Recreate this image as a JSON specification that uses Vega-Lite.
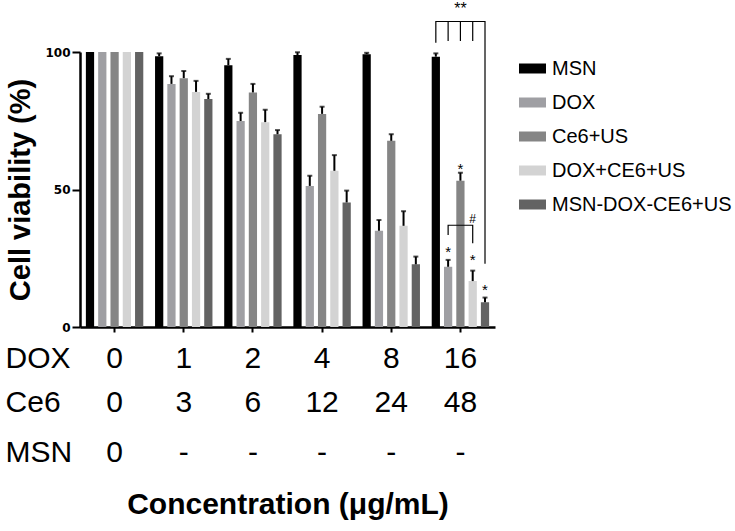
{
  "$schema": "https://vega.github.io/schema/vega-lite/v6.json",
  "autosize": {"type": "none"},
  "padding": {"left": 80, "top": 52, "right": 240, "bottom": 204},
  "width": 415,
  "height": 275,
  "background": "white",
  "config": {
    "view": {"stroke": null},
    "font": "Liberation Sans",
    "axis": {"grid": false, "domainColor": "black", "tickColor": "black", "labelColor": "black", "titleColor": "black"}
  },
  "datasets": {
    "bars": [
      {"dose": "0", "group": "MSN", "value": 100, "err": null},
      {"dose": "0", "group": "DOX", "value": 100, "err": null},
      {"dose": "0", "group": "Ce6+US", "value": 100, "err": null},
      {"dose": "0", "group": "DOX+CE6+US", "value": 100, "err": null},
      {"dose": "0", "group": "MSN-DOX-CE6+US", "value": 100, "err": null},
      {"dose": "1", "group": "MSN", "value": 98.5, "err": 99.5},
      {"dose": "1", "group": "DOX", "value": 88.4, "err": 91.2},
      {"dose": "1", "group": "Ce6+US", "value": 90.5, "err": 93.1},
      {"dose": "1", "group": "DOX+CE6+US", "value": 85.5, "err": 89.5},
      {"dose": "1", "group": "MSN-DOX-CE6+US", "value": 82.9, "err": 84.8},
      {"dose": "2", "group": "MSN", "value": 95.2, "err": 97.5},
      {"dose": "2", "group": "DOX", "value": 74.9, "err": 77.9},
      {"dose": "2", "group": "Ce6+US", "value": 85.3, "err": 88.4},
      {"dose": "2", "group": "DOX+CE6+US", "value": 74.5, "err": 79.0},
      {"dose": "2", "group": "MSN-DOX-CE6+US", "value": 70.1, "err": 71.6},
      {"dose": "4", "group": "MSN", "value": 98.9, "err": 99.9},
      {"dose": "4", "group": "DOX", "value": 51.3, "err": 55.0},
      {"dose": "4", "group": "Ce6+US", "value": 77.5, "err": 80.1},
      {"dose": "4", "group": "DOX+CE6+US", "value": 56.8, "err": 62.5},
      {"dose": "4", "group": "MSN-DOX-CE6+US", "value": 45.3, "err": 49.6},
      {"dose": "8", "group": "MSN", "value": 99.2, "err": 99.7},
      {"dose": "8", "group": "DOX", "value": 35.0, "err": 38.9},
      {"dose": "8", "group": "Ce6+US", "value": 67.7, "err": 70.1},
      {"dose": "8", "group": "DOX+CE6+US", "value": 36.8, "err": 42.1},
      {"dose": "8", "group": "MSN-DOX-CE6+US", "value": 22.8, "err": 25.6},
      {"dose": "16", "group": "MSN", "value": 98.3, "err": 99.5},
      {"dose": "16", "group": "DOX", "value": 21.9, "err": 24.4},
      {"dose": "16", "group": "Ce6+US", "value": 53.2, "err": 56.1},
      {"dose": "16", "group": "DOX+CE6+US", "value": 16.7, "err": 20.5},
      {"dose": "16", "group": "MSN-DOX-CE6+US", "value": 9.0, "err": 10.7}
    ],
    "brackets": [
      {"id": "a", "dose": "16", "group": "MSN", "y": 103.4, "ord": 1},
      {"id": "a", "dose": "16", "group": "MSN", "y": 111.1, "ord": 2},
      {"id": "a", "dose": "16", "group": "MSN-DOX-CE6+US", "y": 111.1, "ord": 3},
      {"id": "a", "dose": "16", "group": "MSN-DOX-CE6+US", "y": 23, "ord": 4},
      {"id": "b", "dose": "16", "group": "DOX", "y": 111.1, "ord": 1},
      {"id": "b", "dose": "16", "group": "DOX", "y": 104.0, "ord": 2},
      {"id": "c", "dose": "16", "group": "Ce6+US", "y": 111.1, "ord": 1},
      {"id": "c", "dose": "16", "group": "Ce6+US", "y": 104.0, "ord": 2},
      {"id": "d", "dose": "16", "group": "DOX+CE6+US", "y": 111.1, "ord": 1},
      {"id": "d", "dose": "16", "group": "DOX+CE6+US", "y": 104.0, "ord": 2},
      {"id": "e", "dose": "16", "group": "DOX", "y": 33.5, "ord": 1},
      {"id": "e", "dose": "16", "group": "DOX", "y": 37, "ord": 2},
      {"id": "e", "dose": "16", "group": "DOX+CE6+US", "y": 37, "ord": 3},
      {"id": "e", "dose": "16", "group": "DOX+CE6+US", "y": 30.5, "ord": 4}
    ],
    "marks": [
      {"dose": "16", "group": "DOX", "y": 25.3, "label": "*", "size": 15},
      {"dose": "16", "group": "Ce6+US", "y": 55.8, "label": "*", "size": 15},
      {"dose": "16", "group": "DOX+CE6+US", "y": 22.5, "label": "*", "size": 15},
      {"dose": "16", "group": "MSN-DOX-CE6+US", "y": 11.6, "label": "*", "size": 15},
      {"dose": "16", "group": "Ce6+US", "y": 113.7, "label": "**", "size": 16},
      {"dose": "16", "group": "DOX+CE6+US", "y": 37.7, "label": "#", "size": 12}
    ],
    "table": [
      {"dose": "0", "row": -11.6, "label": "0"},
      {"dose": "1", "row": -11.6, "label": "1"},
      {"dose": "2", "row": -11.6, "label": "2"},
      {"dose": "4", "row": -11.6, "label": "4"},
      {"dose": "8", "row": -11.6, "label": "8"},
      {"dose": "16", "row": -11.6, "label": "16"},
      {"dose": "0", "row": -27.6, "label": "0"},
      {"dose": "1", "row": -27.6, "label": "3"},
      {"dose": "2", "row": -27.6, "label": "6"},
      {"dose": "4", "row": -27.6, "label": "12"},
      {"dose": "8", "row": -27.6, "label": "24"},
      {"dose": "16", "row": -27.6, "label": "48"},
      {"dose": "0", "row": -45.8, "label": "0"},
      {"dose": "1", "row": -45.8, "label": "-"},
      {"dose": "2", "row": -45.8, "label": "-"},
      {"dose": "4", "row": -45.8, "label": "-"},
      {"dose": "8", "row": -45.8, "label": "-"},
      {"dose": "16", "row": -45.8, "label": "-"}
    ],
    "rowlabels": [
      {"dose": "0", "row": -11.6, "label": "DOX"},
      {"dose": "0", "row": -27.6, "label": "Ce6"},
      {"dose": "0", "row": -45.8, "label": "MSN"}
    ]
  },
  "layer": [
    {
      "data": {"name": "bars"},
      "mark": {"type": "bar"},
      "encoding": {
        "x": {"field": "dose", "type": "nominal", "sort": ["0", "1", "2", "4", "8", "16"],
              "scale": {"domain": ["0", "1", "2", "4", "8", "16"], "paddingInner": 0.17, "paddingOuter": 0.085},
              "axis": {"labels": false, "domainWidth": 2.5, "tickSize": 5, "tickWidth": 2,
                       "title": "Concentration (μg/mL)", "titleFont": "Liberation Sans", "titleFontSize": 30,
                       "titleFontWeight": "bold", "titleBaseline": "alphabetic", "titleAlign": "center",
                       "titleX": 207.5, "titleY": 186}},
        "xOffset": {"field": "group", "type": "nominal",
                    "scale": {"domain": ["MSN", "DOX", "Ce6+US", "DOX+CE6+US", "MSN-DOX-CE6+US"], "paddingInner": 0.33, "paddingOuter": 0}},
        "y": {"field": "value", "type": "quantitative",
              "scale": {"domain": [0, 100], "nice": false},
              "axis": {"values": [0, 50, 100], "domainWidth": 2.5, "tickSize": 8, "tickWidth": 2,
                       "labelFont": "DejaVu Sans", "labelFontWeight": "bold", "labelFontSize": 12, "labelPadding": 2,
                       "title": "Cell viability (%)", "titleFont": "Liberation Sans", "titleFontSize": 29,
                       "titleFontWeight": "bold", "titleAngle": -90, "titleBaseline": "alphabetic",
                       "titleAlign": "center", "titleX": -51, "titleY": 137.5}},
        "color": {"field": "group", "type": "nominal",
                  "scale": {"domain": ["MSN", "DOX", "Ce6+US", "DOX+CE6+US", "MSN-DOX-CE6+US"],
                            "range": ["#000000", "#9f9fa3", "#858585", "#d3d3d3", "#636363"]},
                  "legend": {"orient": "none", "legendX": 439, "legendY": 3, "title": null, "padding": 0,
                             "symbolType": "M-1,-0.37H1V0.37H-1Z", "symbolSize": 729, "symbolStrokeWidth": 0,
                             "symbolOpacity": 1, "labelFont": "Liberation Sans", "labelFontSize": 20,
                             "labelColor": "black", "labelOffset": 6, "rowPadding": 10, "labelLimit": 300}}
      }
    },
    {
      "data": {"name": "bars"},
      "transform": [{"filter": "datum.err != null"}],
      "mark": {"type": "rule", "color": "black", "strokeWidth": 2},
      "encoding": {
        "x": {"field": "dose", "type": "nominal", "sort": ["0", "1", "2", "4", "8", "16"]},
        "xOffset": {"field": "group", "type": "nominal", "scale": {"domain": ["MSN", "DOX", "Ce6+US", "DOX+CE6+US", "MSN-DOX-CE6+US"]}},
        "y": {"field": "value", "type": "quantitative"},
        "y2": {"field": "err"}
      }
    },
    {
      "data": {"name": "bars"},
      "transform": [{"filter": "datum.err != null"}],
      "mark": {"type": "tick", "color": "black", "size": 5, "thickness": 2, "orient": "horizontal"},
      "encoding": {
        "x": {"field": "dose", "type": "nominal", "sort": ["0", "1", "2", "4", "8", "16"]},
        "xOffset": {"field": "group", "type": "nominal", "scale": {"domain": ["MSN", "DOX", "Ce6+US", "DOX+CE6+US", "MSN-DOX-CE6+US"]}},
        "y": {"field": "err", "type": "quantitative"}
      }
    },
    {
      "data": {"name": "brackets"},
      "mark": {"type": "line", "color": "black", "strokeWidth": 1.2},
      "encoding": {
        "x": {"field": "dose", "type": "nominal", "sort": ["0", "1", "2", "4", "8", "16"]},
        "xOffset": {"field": "group", "type": "nominal", "scale": {"domain": ["MSN", "DOX", "Ce6+US", "DOX+CE6+US", "MSN-DOX-CE6+US"]}},
        "y": {"field": "y", "type": "quantitative"},
        "detail": {"field": "id", "type": "nominal"},
        "order": {"field": "ord", "type": "quantitative"}
      }
    },
    {
      "data": {"name": "marks"},
      "mark": {"type": "text", "fill": "black", "color": "black", "baseline": "alphabetic", "align": "center", "font": "Liberation Sans"},
      "encoding": {
        "x": {"field": "dose", "type": "nominal", "sort": ["0", "1", "2", "4", "8", "16"]},
        "xOffset": {"field": "group", "type": "nominal", "scale": {"domain": ["MSN", "DOX", "Ce6+US", "DOX+CE6+US", "MSN-DOX-CE6+US"]}},
        "y": {"field": "y", "type": "quantitative"},
        "text": {"field": "label"},
        "size": {"field": "size", "type": "quantitative", "scale": null}
      }
    },
    {
      "data": {"name": "table"},
      "mark": {"type": "text", "color": "black", "baseline": "middle", "align": "center", "font": "Liberation Sans", "fontSize": 30},
      "encoding": {
        "x": {"field": "dose", "type": "nominal", "sort": ["0", "1", "2", "4", "8", "16"]},
        "y": {"field": "row", "type": "quantitative"},
        "text": {"field": "label"}
      }
    },
    {
      "data": {"name": "rowlabels"},
      "mark": {"type": "text", "color": "black", "baseline": "middle", "align": "left", "font": "Liberation Sans", "fontSize": 30, "dx": -109},
      "encoding": {
        "x": {"field": "dose", "type": "nominal", "sort": ["0", "1", "2", "4", "8", "16"]},
        "y": {"field": "row", "type": "quantitative"},
        "text": {"field": "label"}
      }
    }
  ]
}
